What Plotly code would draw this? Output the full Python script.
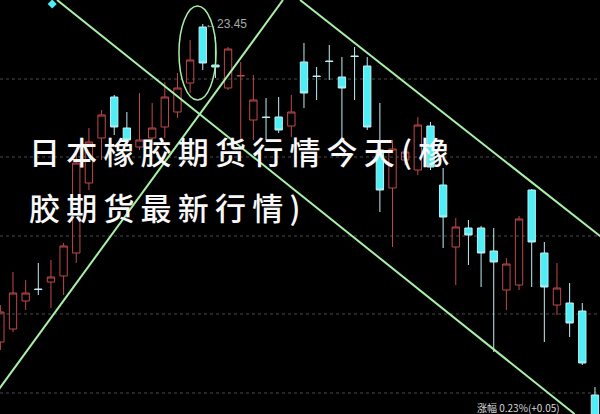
import plotly.graph_objects as go

# ---- data (prices) ----
idx = list(range(48))
opens = [20.27, 20.40, 20.68, 20.80, 20.87, 20.93, 21.16, 21.86, 22.31, 22.72,
         22.41, 22.22, 22.31, 22.42, 22.57, 22.86, 23.42, 23.04, 22.81, 22.93,
         22.49, 22.52, 22.52, 22.43, 23.07, 22.93, 23.08, 22.92, 23.13, 23.03,
         22.19, 21.81, 22.09, 21.99, 22.43, 21.84, 21.22, 21.41, 21.41, 21.18,
         20.79, 20.84, 21.79, 21.16, 20.64, 20.66, 20.58, 19.74]
highs = [20.64, 20.97, 20.89, 21.06, 21.09, 21.26, 22.16, 22.41, 22.59, 22.74,
         22.57, 22.76, 22.66, 22.87, 22.96, 23.29, 23.45, 23.32, 23.22, 23.07,
         22.94, 22.71, 22.72, 22.74, 23.26, 23.02, 23.24, 23.12, 23.22, 23.12,
         22.66, 22.29, 22.21, 22.52, 22.47, 22.01, 21.51, 21.49, 21.43, 21.41,
         21.11, 21.53, 21.80, 21.27, 21.06, 20.86, 20.66, 19.82]
lows = [20.19, 20.37, 20.59, 20.74, 20.61, 20.74, 21.06, 21.79, 22.09, 22.34,
        22.22, 22.19, 22.24, 22.31, 22.51, 22.76, 22.99, 22.91, 22.79, 22.29,
        22.29, 22.29, 22.36, 22.32, 22.61, 22.69, 22.89, 22.29, 22.69, 22.39,
        21.57, 21.22, 22.04, 21.94, 21.99, 21.21, 20.84, 21.04, 20.82, 20.17,
        20.59, 20.79, 20.82, 20.27, 20.54, 20.32, 20.04, 19.44]
closes = [20.57, 20.76, 20.76, 20.795, 20.92, 21.23, 22.06, 22.27, 22.54, 22.42,
          22.29, 22.29, 22.41, 22.72, 22.81, 23.09, 23.06, 23.02, 23.20, 22.935,
          22.69, 22.515, 22.39, 22.57, 22.76, 22.925, 23.075, 22.81, 23.125, 22.42,
          21.79, 22.20, 22.17, 22.44, 22.02, 21.52, 21.42, 21.34, 21.16, 21.07,
          21.05, 21.50, 21.27, 20.82, 20.81, 20.46, 20.06, 19.49]

high_label_idx = 16
high_label_text = "←23.45"
grid_levels = [22.90, 22.12, 21.33, 20.55, 19.76]

# trend lines (start/end in index/price units)
trend_x = [[4.48, 45.39], [22.34, -0.10], [23.69, 47.60]]
trend_y = [[23.69, 19.55], [23.69, 19.80], [23.69, 21.31]]
ellipse_x = [14.12, 17.05]
ellipse_y = [22.69, 23.63]
marker_x = [4.1]
marker_y = [23.65]

title_lines = ["日本橡胶期货行情今天(橡", "胶期货最新行情)"]
bottom_text = "涨幅 0.23%(+0.05)"

X_RANGE = [-0.028, 47.40]
Y_RANGE = [19.55, 23.69]

fig = go.Figure()

fig.add_trace(go.Candlestick(
    x=idx, open=opens, high=highs, low=lows, close=closes,
    increasing=dict(line=dict(color="#c04848", width=1), fillcolor="rgba(0,0,0,0)"),
    decreasing=dict(line=dict(color="#bfeff4", width=1), fillcolor="#4eeef6"),
    whiskerwidth=0, showlegend=False, hoverinfo="skip",
))

for tx, ty in zip(trend_x, trend_y):
    fig.add_trace(go.Scatter(x=tx, y=ty, mode="lines",
                             line=dict(color="#a8f0a8", width=2),
                             showlegend=False, hoverinfo="skip"))

fig.add_trace(go.Scatter(x=marker_x, y=marker_y, mode="markers",
                         marker=dict(symbol="diamond", size=7, color="#4eeef6"),
                         showlegend=False, hoverinfo="skip"))

shapes = []
for g in grid_levels:
    shapes.append(dict(type="line", xref="paper", x0=0, x1=1, yref="y", y0=g, y1=g,
                       line=dict(color="#4a4a4a", width=1, dash="dot"), layer="below"))
shapes.append(dict(type="circle", xref="x", yref="y",
                   x0=ellipse_x[0], x1=ellipse_x[1], y0=ellipse_y[0], y1=ellipse_y[1],
                   line=dict(color="#a8f0a8", width=1.5)))

annotations = [
    dict(x=high_label_idx, y=highs[high_label_idx], xref="x", yref="y", text=high_label_text,
         showarrow=False, xanchor="left", yanchor="middle",
         font=dict(family="Liberation Sans, Arial", size=12, color="#a8a8a8")),
    dict(x=475 / 600, y=1 - 398 / 414, xref="paper", yref="paper", text=bottom_text,
         showarrow=False, xanchor="left", yanchor="top",
         font=dict(family="Noto Sans CJK SC", size=10, color="#d8d8d8")),
]
line_centers = [150, 206]
for t, cy in zip(title_lines, line_centers):
    annotations.append(dict(
        x=27 / 600, y=1 - cy / 414, xref="paper", yref="paper",
        text="\u2009".join(list(t)), showarrow=False, xanchor="left", yanchor="middle",
        font=dict(family="Noto Sans CJK SC", size=31, color="#f8f8f8", weight=500)))

fig.update_layout(
    width=600, height=414, margin=dict(l=0, r=0, t=0, b=0),
    paper_bgcolor="#000000", plot_bgcolor="#000000",
    boxgap=0.17,
    xaxis=dict(range=X_RANGE, visible=False, rangeslider=dict(visible=False), fixedrange=True),
    yaxis=dict(range=Y_RANGE, visible=False, fixedrange=True),
    shapes=shapes, annotations=annotations,
)

fig.write_html("out.html", config={"displayModeBar": False},
               post_script="document.body.style.margin='0';document.body.style.background='#000';")
